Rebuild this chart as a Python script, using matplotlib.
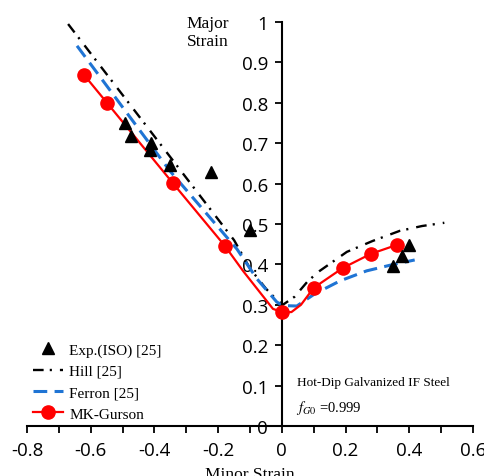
import numpy as np
import matplotlib.pyplot as plt

plt.rcParams['mathtext.fontset'] = 'stix'

# experimental points (ISO)
exp_x = [-0.492, -0.473, -0.411, -0.414, -0.351, -0.223, -0.100, 0.348, 0.376, 0.398]
exp_y = [0.750, 0.718, 0.700, 0.683, 0.646, 0.629, 0.485, 0.396, 0.421, 0.448]

# Hill [25]
hill_x = [-0.671, -0.33, -0.15, -0.10, -0.05, -0.016, 0.003, 0.04, 0.082, 0.119, 0.204, 0.285, 0.370, 0.440, 0.510]
hill_y = [0.995, 0.645, 0.460, 0.390, 0.340, 0.312, 0.300, 0.320, 0.359, 0.384, 0.431, 0.458, 0.483, 0.495, 0.503]

# Ferron [25]
ferron_x = [-0.643, -0.351, -0.141, -0.078, -0.016, 0.003, 0.047, 0.103, 0.182, 0.266, 0.345, 0.417]
ferron_y = [0.941, 0.631, 0.438, 0.364, 0.307, 0.298, 0.297, 0.327, 0.359, 0.384, 0.399, 0.411]

# MK-Gurson: markers and the drawn curve
gurson_x = [-0.621, -0.549, -0.342, -0.179, 0.0, 0.100, 0.191, 0.279, 0.360]
gurson_y = [0.869, 0.800, 0.601, 0.446, 0.282, 0.342, 0.391, 0.426, 0.448]
gline_x = [-0.621, -0.549, -0.342, -0.179, -0.122, -0.060, -0.028, 0.0, 0.030, 0.060, 0.100, 0.191, 0.279, 0.360]
gline_y = [0.869, 0.800, 0.601, 0.446, 0.384, 0.322, 0.290, 0.282, 0.282, 0.300, 0.342, 0.391, 0.426, 0.448]

fig = plt.figure(figsize=(4.84, 4.77), dpi=100)
ax = fig.add_axes([27/484, 1-427/477, 446/484, 404/477])

tri, = ax.plot(exp_x, exp_y, ls='none', marker='^', ms=8, color='black', zorder=5)
hill, = ax.plot(hill_x, hill_y, color='black', lw=1.7, dashes=[4.5, 2.6, 0.9, 3.4])
fer, = ax.plot(ferron_x, ferron_y, color='#1f74d4', lw=2.2, dashes=[4.5, 2.4])
gl, = ax.plot(gline_x, gline_y, color='red', lw=1.6, zorder=4)
gm, = ax.plot(gurson_x, gurson_y, ls='none', marker='o', ms=9.5, color='red', zorder=4)

ax.set_xlim(-0.8, 0.6)
ax.set_ylim(0, 1)
ax.spines['left'].set_position(('data', 0))
ax.spines['right'].set_visible(False)
ax.spines['top'].set_visible(False)
for s in ['left', 'bottom']:
    ax.spines[s].set_linewidth(1.5)

ax.set_xticks(np.arange(-0.8, 0.61, 0.2))
ax.set_xticks(np.arange(-0.8, 0.61, 0.1), minor=True)
ax.set_yticks(np.arange(0, 1.01, 0.1))
ax.set_xticklabels(['-0.8', '-0.6', '-0.4', '-0.2', '0', '0.2', '0.4', '0.6'])
ax.set_yticklabels(['0', '0.1', '0.2', '0.3', '0.4', '0.5', '0.6', '0.7', '0.8', '0.9', '1'])
ax.tick_params(which='both', direction='out', length=5, width=1.3, labelsize=13.5, pad=6)
ax.tick_params(axis='y', length=5, pad=5)
for lab in ax.get_xticklabels() + ax.get_yticklabels():
    lab.set_fontfamily('Open Sans')

ax.set_xlabel('Minor Strain', family='Liberation Serif', fontsize=12.5, labelpad=5)
ax.text(0.406, 0.975, 'Major\nStrain', transform=ax.transAxes, ha='center', va='center',
        family='Liberation Serif', fontsize=12.5, linespacing=1.1)

ax.text(0.047, 0.101, 'Hot-Dip Galvanized IF Steel', family='Liberation Serif', fontsize=9.5)
ax.text(0.045, 0.038, r'$f_{G0}$ =0.999', family='Liberation Serif', fontsize=10.5)

leg = ax.legend([tri, hill, fer, (gl, gm)],
                ['Exp.(ISO) [25]', 'Hill [25]', 'Ferron [25]', 'MK-Gurson'],
                loc='upper left', bbox_to_anchor=(-0.018, 0.240), frameon=False,
                prop={'family': 'Liberation Serif', 'size': 11},
                handlelength=1.95, handletextpad=0.45, labelspacing=0.5)

fig.savefig('out.png', dpi=100)
